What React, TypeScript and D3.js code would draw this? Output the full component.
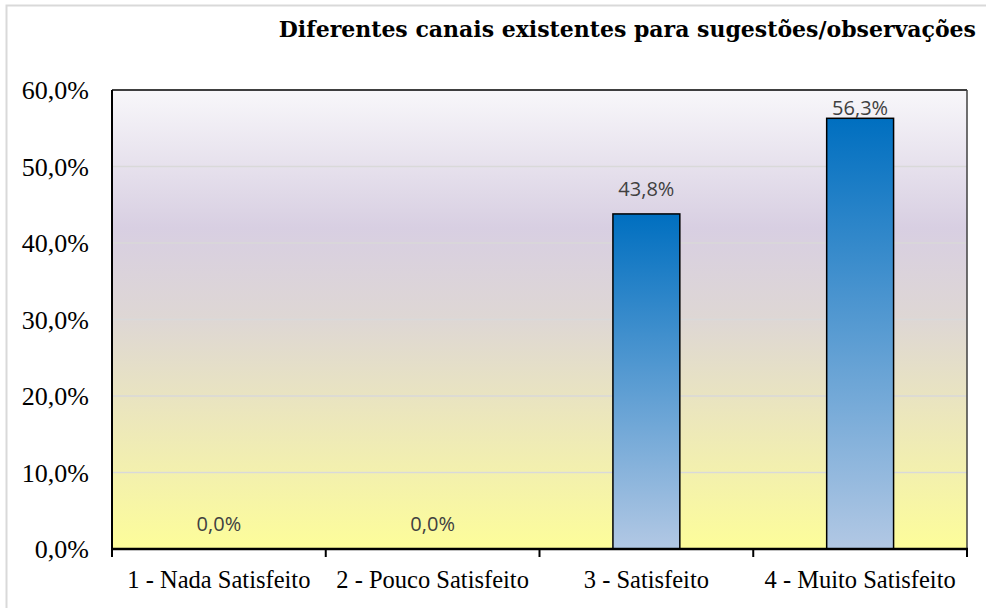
import React from "react";
import * as d3 from "d3";

const categories = ["1 - Nada Satisfeito", "2 - Pouco Satisfeito", "3 - Satisfeito", "4 - Muito Satisfeito"];
const values = [0.0, 0.0, 43.8, 56.3];
const yTicks = [0, 10, 20, 30, 40, 50, 60];
const title = "Diferentes canais existentes para sugestões/observações";

const W = 986, H = 608;
const M = { left: 112, top: 90, right: 967, bottom: 549 };

const fmt = (v: number) => v.toFixed(1).replace(".", ",") + "%";

export default function App() {
  const x = d3.scaleBand<string>().domain(categories).range([M.left, M.right]).padding(0);
  const y = d3.scaleLinear().domain([0, 60]).range([M.bottom, M.top]);
  const barW = x.bandwidth() * 0.313;
  const serif = "'Liberation Serif', 'Times New Roman', serif";
  const titleFont = "'DejaVu Serif', serif";
  const sans = "'Open Sans', 'Noto Sans', sans-serif";
  const tickXs = [...categories.map((c) => x(c)!), M.right];

  return (
    <svg width={W} height={H} style={{ position: "absolute", left: 0, top: 0, background: "#fff" }}>
      <defs>
        <linearGradient id="bg" x1="0" y1="0" x2="0" y2="1">
          <stop offset="0" stopColor="#f8f7fa" />
          <stop offset="0.3" stopColor="#d8cfe2" />
          <stop offset="0.5" stopColor="#ded7d4" />
          <stop offset="0.7" stopColor="#ebe6bd" />
          <stop offset="1" stopColor="#fdfd9a" />
        </linearGradient>
        <linearGradient id="bar" x1="0" y1="0" x2="0" y2="1">
          <stop offset="0" stopColor="#006fc0" />
          <stop offset="1" stopColor="#b2c8e4" />
        </linearGradient>
      </defs>
      <path d={`M6.5,${H} V5.5 H${W}`} fill="none" stroke="#d9d9d9" strokeWidth={2} />
      <text x={976} y={37} textAnchor="end" fontFamily={titleFont} fontWeight="bold" fontSize={22} fill="#000">
        {title}
      </text>
      <rect x={M.left} y={M.top} width={M.right - M.left} height={M.bottom - M.top} fill="url(#bg)" />
      {yTicks.filter((t) => t > 0 && t < 60).map((t) => (
        <line key={t} x1={M.left} x2={M.right} y1={y(t)} y2={y(t)} stroke="#d9d9d9" strokeWidth={1.5} />
      ))}
      {yTicks.map((t) => (
        <text key={"l" + t} x={89} y={y(t)} dy="0.35em" textAnchor="end" fontFamily={serif} fontSize={26} fill="#000">
          {fmt(t)}
        </text>
      ))}
      {categories.map((c, i) => {
        const v = values[i];
        const cx = x(c)! + x.bandwidth() / 2;
        return (
          <g key={c}>
            {v > 0 && (
              <rect x={cx - barW / 2} y={y(v)} width={barW} height={y(0) - y(v)} fill="url(#bar)" stroke="#000" strokeWidth={1.5} />
            )}
            <text x={cx} y={Math.max(y(v) - 18, M.top + 25)} textAnchor="middle" fontFamily={sans} fontSize={20} fill="#404040">
              {fmt(v)}
            </text>
            <text x={cx} y={588} textAnchor="middle" fontFamily={serif} fontSize={24.5} fill="#000">
              {c}
            </text>
          </g>
        );
      })}
      <line x1={M.left} x2={M.right} y1={M.top} y2={M.top} stroke="#000" strokeWidth={1.5} />
      <line x1={M.right} x2={M.right} y1={M.top} y2={M.bottom} stroke="#404040" strokeWidth={1.5} />
      <line x1={M.left} x2={M.left} y1={M.top} y2={M.bottom} stroke="#000" strokeWidth={2} />
      {tickXs.map((tx, i) => (
        <line key={"t" + i} x1={tx} x2={tx} y1={M.bottom} y2={557} stroke="#000" strokeWidth={2} />
      ))}
      <line x1={M.left - 1} x2={M.right + 1} y1={M.bottom} y2={M.bottom} stroke="#000" strokeWidth={2.5} />
    </svg>
  );
}
